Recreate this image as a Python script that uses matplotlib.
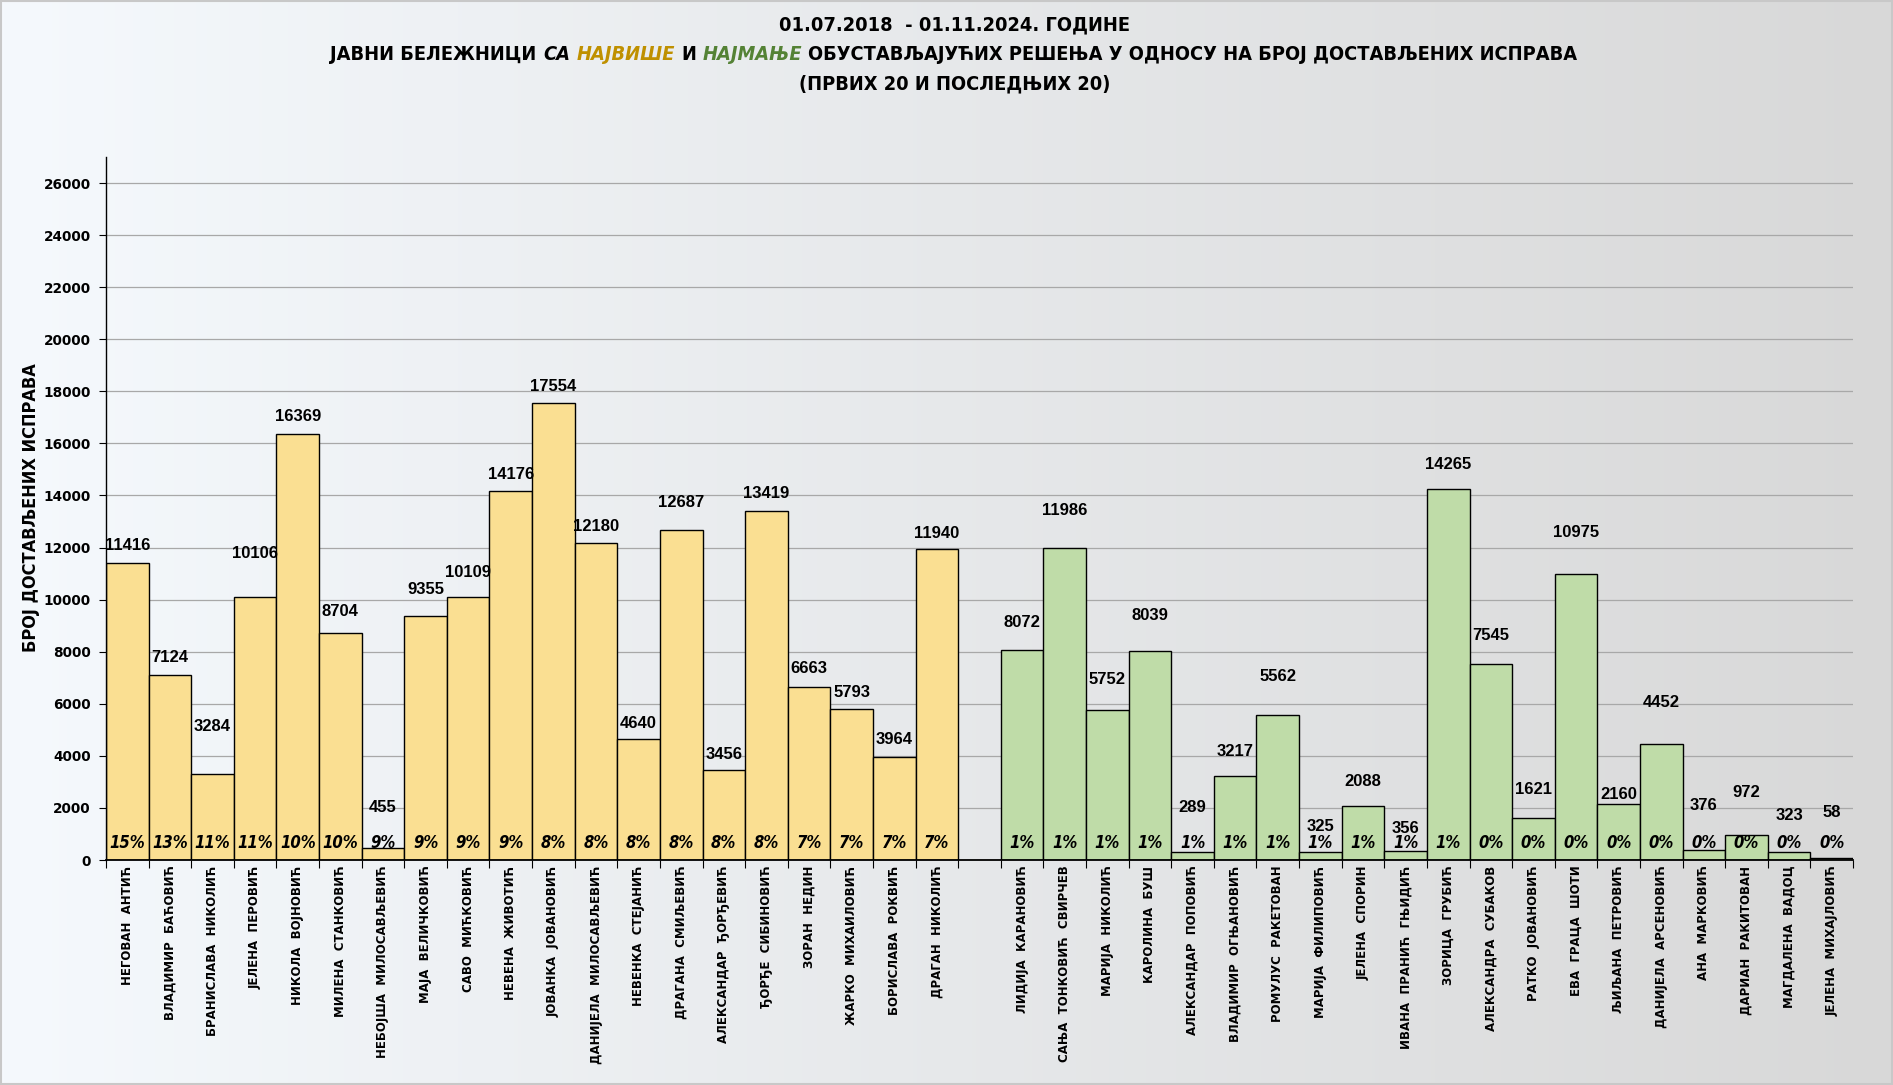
import matplotlib
matplotlib.use("Agg")
import matplotlib.pyplot as plt
import numpy as np
from matplotlib import font_manager as fm
from matplotlib.patches import Rectangle

# ---------------- data ----------------
names_top = ["НЕГОВАН  АНТИЋ", "ВЛАДИМИР  БАЋОВИЋ", "БРАНИСЛАВА  НИКОЛИЋ", "ЈЕЛЕНА  ПЕРОВИЋ",
             "НИКОЛА  ВОЈНОВИЋ", "МИЛЕНА  СТАНКОВИЋ", "НЕБОЈША  МИЛОСАВЉЕВИЋ", "МАЈА  ВЕЛИЧКОВИЋ",
             "САВО  МИЋКОВИЋ", "НЕВЕНА  ЖИВОТИЋ", "ЈОВАНКА  ЈОВАНОВИЋ", "ДАНИЈЕЛА  МИЛОСАВЉЕВИЋ",
             "НЕВЕНКА  СТЕЈАНИЋ", "ДРАГАНА  СМИЉЕВИЋ", "АЛЕКСАНДАР  ЂОРЂЕВИЋ", "ЂОРЂЕ  СИБИНОВИЋ",
             "ЗОРАН  НЕДИН", "ЖАРКО  МИХАИЛОВИЋ", "БОРИСЛАВА  РОКВИЋ", "ДРАГАН  НИКОЛИЋ"]
values_top = [11416, 7124, 3284, 10106, 16369, 8704, 455, 9355, 10109, 14176,
              17554, 12180, 4640, 12687, 3456, 13419, 6663, 5793, 3964, 11940]
pct_top = [15, 13, 11, 11, 10, 10, 9, 9, 9, 9, 8, 8, 8, 8, 8, 8, 7, 7, 7, 7]

names_bottom = ["ЛИДИЈА  КАРАНОВИЋ", "САЊА  ТОНКОВИЋ  СВИРЧЕВ", "МАРИЈА  НИКОЛИЋ", "КАРОЛИНА  БУШ",
                "АЛЕКСАНДАР  ПОПОВИЋ", "ВЛАДИМИР  ОГЊАНОВИЋ", "РОМУЛУС  РАКЕТОВАН", "МАРИЈА  ФИЛИПОВИЋ",
                "ЈЕЛЕНА  СПОРИН", "ИВАНА  ПРАНИЋ  ГЊИДИЋ", "ЗОРИЦА  ГРУБИЋ", "АЛЕКСАНДРА  СУБАКОВ",
                "РАТКО  ЈОВАНОВИЋ", "ЕВА  ГРАЦА  ШОТИ", "ЉИЉАНА  ПЕТРОВИЋ", "ДАНИЈЕЛА  АРСЕНОВИЋ",
                "АНА  МАРКОВИЋ", "ДАРИАН  РАКИТОВАН", "МАГДАЛЕНА  ВАДОЦ", "ЈЕЛЕНА  МИХАЈЛОВИЋ"]
values_bottom = [8072, 11986, 5752, 8039, 289, 3217, 5562, 325, 2088, 356,
                 14265, 7545, 1621, 10975, 2160, 4452, 376, 972, 323, 58]
pct_bottom = [1, 1, 1, 1, 1, 1, 1, 1, 1, 1, 1, 0, 0, 0, 0, 0, 0, 0, 0, 0]

y_ticks = list(range(0, 26001, 2000))

# label lift above bar top (style, in pixels)
lift_top = [17, 17, 48, 43, 17, 22, 41, 27, 24, 16, 16, 16, 16, 27, 16, 17, 18, 17, 17, 16]
lift_bottom = [27, 37, 31, 35, 45, 25, 39, 25, 24, 22, 24, 28, 28, 42, 9, 42, 45, 42, 36, 46]

# ---------------- fonts ----------------
avail = {f.name for f in fm.fontManager.ttflist}
has_dv_cond = any(f.name == "DejaVu Sans" and str(f.stretch) in ("condensed", "semi-condensed")
                  for f in fm.fontManager.ttflist)
if "Liberation Sans Narrow" in avail:
    NARROW_FAM, STRETCH = ["Liberation Sans Narrow", "DejaVu Sans"], "normal"
elif has_dv_cond:
    NARROW_FAM, STRETCH = ["DejaVu Sans"], "condensed"
else:
    NARROW_FAM, STRETCH = ["Liberation Sans", "DejaVu Sans"], "normal"
VAL_FAM = ["Liberation Sans", "DejaVu Sans"]

W, H = 1893, 1085
fig = plt.figure(figsize=(W / 100, H / 100), dpi=100)

# background gradient
bg = fig.add_axes([0, 0, 1, 1], zorder=-10)
g = np.linspace(0, 1, 512)
c0 = np.array([245, 249, 253]) / 255
c1 = np.array([216, 216, 216]) / 255
img = c0[None, :] * (1 - g[:, None]) + c1[None, :] * g[:, None]
bg.imshow(img[None, :, :], aspect="auto", extent=[0, 1, 0, 1])
bg.add_patch(Rectangle((0.0005, 0.001), 0.999, 0.998, fill=False, edgecolor="#c8c8c8", lw=1.5,
                       transform=bg.transAxes))
bg.set_xlim(0, 1); bg.set_ylim(0, 1)
bg.axis("off")

# main axes
ax = fig.add_axes([106 / W, 1 - 860 / H, (1853 - 106) / W, (860 - 157) / H])
ax.set_facecolor("none")

x_top = np.arange(len(values_top))
x_bottom = np.arange(len(values_bottom)) + len(values_top) + 1

ax.bar(x_top, values_top, width=1.0, color="#FADF92", edgecolor="black", linewidth=1.0, zorder=2)
ax.bar(x_bottom, values_bottom, width=1.0, color="#BFDCA8", edgecolor="black", linewidth=1.0, zorder=2)

ax.set_xlim(-0.5, x_bottom[-1] + 0.5)
ax.set_ylim(0, 27000)
ax.set_yticks(y_ticks)
ax.set_yticklabels([str(v) for v in y_ticks])
for lab in ax.get_yticklabels():
    lab.set_fontsize(9.8)
    lab.set_fontweight("bold")
    lab.set_family("DejaVu Sans")
ax.yaxis.grid(True, color="#a8a8a8", linewidth=0.9, zorder=0)
ax.set_axisbelow(True)

for s in ["top", "right"]:
    ax.spines[s].set_visible(False)
ax.spines["left"].set_linewidth(1.0)
ax.spines["bottom"].set_linewidth(1.3)
ax.tick_params(axis="y", length=5, width=0.8, pad=6)

all_x = list(x_top) + list(x_bottom)
all_names = names_top + names_bottom
ax.set_xticks(all_x)
ax.set_xticklabels(all_names, rotation=90, fontsize=8.5, fontweight="bold",
                   family="DejaVu Sans", va="top", ha="center")
ax.tick_params(axis="x", which="major", length=0, pad=4)
ax.set_xticks(np.arange(-0.5, x_bottom[-1] + 1, 1.0), minor=True)
ax.tick_params(axis="x", which="minor", length=6, width=0.8)

# value labels and percent labels
for xs, vals, pcts, lifts in [(x_top, values_top, pct_top, lift_top),
                              (x_bottom, values_bottom, pct_bottom, lift_bottom)]:
    for xi, v, p, lf in zip(xs, vals, pcts, lifts):
        ax.annotate(str(v), xy=(xi, v), xytext=(0, lf), textcoords="offset pixels",
                    ha="center", va="center", fontsize=12, fontweight="bold",
                    family=VAL_FAM, zorder=5)
        ax.annotate(f"{p}%", xy=(xi, 0), xytext=(0, 17), textcoords="offset pixels",
                    ha="center", va="center", fontsize=12, fontweight="bold",
                    fontstyle="italic", family=NARROW_FAM, fontstretch=STRETCH, zorder=5)

# y label
fig.text(31 / W, 1 - 508 / H, "БРОЈ ДОСТАВЉЕНИХ ИСПРАВА", rotation=90, ha="center", va="center",
         fontsize=13, fontweight="bold", family=NARROW_FAM, fontstretch=STRETCH)

# ---------------- title ----------------
renderer = fig.canvas.get_renderer()


def rich_line(parts, y_px, target_w, base_size=16):
    texts = []
    for s, color, style in parts:
        t = fig.text(0, 1 - y_px / H, s, color=color, fontstyle=style, fontweight="bold",
                     fontsize=base_size, family=NARROW_FAM, fontstretch=STRETCH,
                     ha="left", va="center")
        texts.append(t)
    probe1 = fig.text(0, 0, "ИИ", fontsize=base_size, fontweight="bold", family=NARROW_FAM,
                      fontstretch=STRETCH)
    probe2 = fig.text(0, 0, "И И", fontsize=base_size, fontweight="bold", family=NARROW_FAM,
                      fontstretch=STRETCH)
    gap = probe2.get_window_extent(renderer).width - probe1.get_window_extent(renderer).width
    probe1.remove(); probe2.remove()
    widths = [t.get_window_extent(renderer).width for t in texts]
    total = sum(widths) + gap * (len(texts) - 1)
    scale = target_w / total
    size = base_size * scale
    for t in texts:
        t.set_fontsize(size)
    widths = [w * scale for w in widths]
    gap *= scale
    total = sum(widths) + gap * (len(texts) - 1)
    x = (W - total) / 2 + 8
    for t, w in zip(texts, widths):
        t.set_x(x / W)
        x += w + gap
    return size


size2 = rich_line([("ЈАВНИ БЕЛЕЖНИЦИ", "black", "normal"),
                   ("СА", "black", "italic"),
                   ("НАЈВИШЕ", "#BF9000", "italic"),
                   ("И", "black", "normal"),
                   ("НАЈМАЊЕ", "#548235", "italic"),
                   ("ОБУСТАВЉАЈУЋИХ РЕШЕЊА У ОДНОСУ НА БРОЈ ДОСТАВЉЕНИХ ИСПРАВА", "black", "normal")],
                  55, 1249)
fig.text(0.5 + 8 / W, 1 - 25 / H, "01.07.2018  - 01.11.2024. ГОДИНЕ", ha="center", va="center",
         fontsize=size2, fontweight="bold", family=NARROW_FAM, fontstretch=STRETCH)
fig.text(0.5 + 8 / W, 1 - 84 / H, "(ПРВИХ 20 И ПОСЛЕДЊИХ 20)", ha="center", va="center",
         fontsize=size2, fontweight="bold", family=NARROW_FAM, fontstretch=STRETCH)

fig.savefig("out.png", dpi=100)
